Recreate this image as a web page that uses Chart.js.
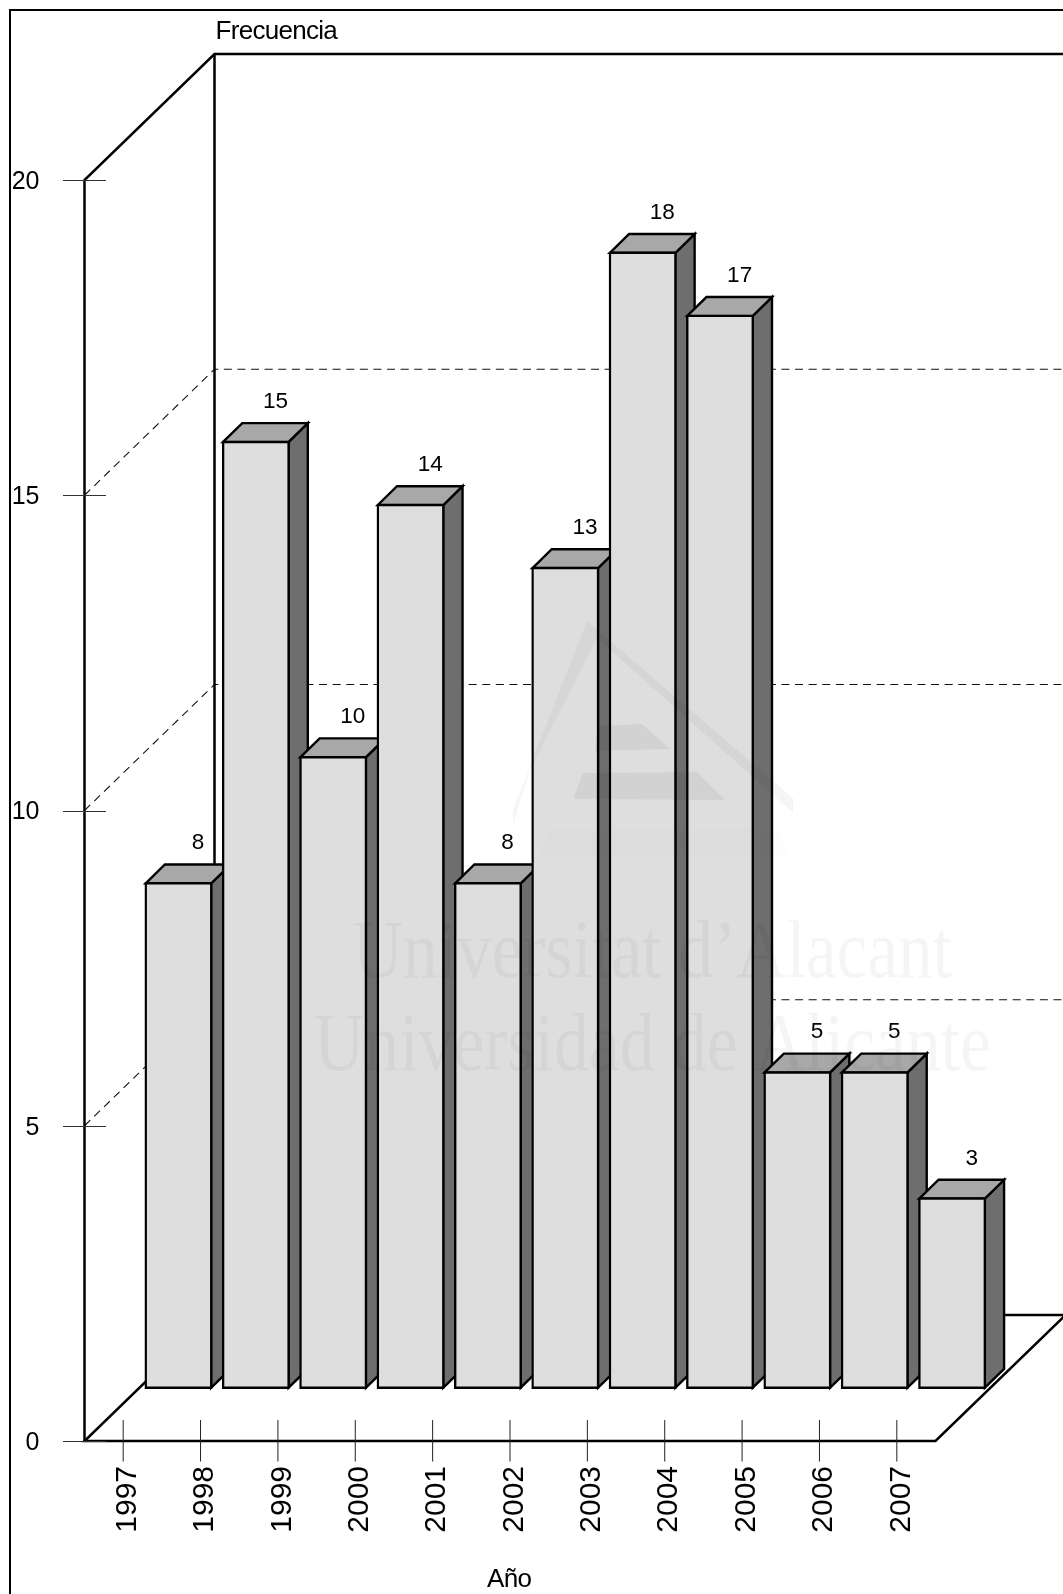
<!DOCTYPE html>
<html lang="es">
<head>
<meta charset="utf-8">
<title>Frecuencia por año</title>
<script src="https://cdn.jsdelivr.net/npm/chart.js@4/dist/chart.umd.js"></script>
<style>
html,body{margin:0;padding:0;background:#fff}
canvas{display:block}
</style>
</head>
<body>
<canvas id="c" width="1063" height="1594"></canvas>
<script>
const years = ['1997','1998','1999','2000','2001','2002','2003','2004','2005','2006','2007'];
const frequency = [8,15,10,14,8,13,18,17,5,5,3];
const yTicks = [0,5,10,15,20];

const FONT = '"Liberation Sans", Arial, sans-serif';
const SERIF = '"Liberation Serif", "Times New Roman", serif';
const WALL = {dx:130, dy:126};      // depth of the box (floor to back wall)
const BAR_POS = {dx:55.3, dy:53.3}; // bars stand inside the floor
const BAR_DEPTH = {dx:19.2, dy:18.8};
const COL = {front:'#dedede', side:'#6e6e6e', top:'#a8a8a8'};
const WALL_LW = 2.5, BAR_LW = 2.4;

function line(ctx, pts, w, color, dash){
  ctx.save();
  ctx.lineWidth = w; ctx.strokeStyle = color; ctx.setLineDash(dash||[]);
  ctx.lineJoin='miter'; ctx.lineCap='butt';
  ctx.beginPath();
  pts.forEach((p,i)=> i? ctx.lineTo(p[0],p[1]) : ctx.moveTo(p[0],p[1]));
  ctx.stroke();
  ctx.restore();
}
function poly(ctx, pts, fill){
  ctx.save();
  ctx.fillStyle = fill; ctx.strokeStyle='#000'; ctx.lineWidth=BAR_LW; ctx.lineJoin='miter';
  ctx.beginPath();
  pts.forEach((p,i)=> i? ctx.lineTo(p[0],p[1]) : ctx.moveTo(p[0],p[1]));
  ctx.closePath(); ctx.fill(); ctx.stroke();
  ctx.restore();
}
function text(ctx, s, x, y, font, align, spacing){
  ctx.save();
  ctx.font = font; ctx.fillStyle='#000'; ctx.textAlign=align||'left'; ctx.textBaseline='alphabetic';
  if(spacing) ctx.letterSpacing = spacing;
  ctx.fillText(s,x,y);
  ctx.restore();
}

const box3d = {
  id:'box3d',
  beforeDatasetsDraw(chart){
    const {ctx, scales:{x,y}} = chart;
    const L=x.left, R=x.right, Y0=y.getPixelForValue(0), YT=y.getPixelForValue(20);
    const W=chart.width, H=chart.height;
    // outer frame
    line(ctx,[[10,H],[10,10],[W,10]],2,'#000');
    // dashed grid on side and back walls
    yTicks.filter(v=>v>0&&v<20).forEach(v=>{
      const p=y.getPixelForValue(v);
      line(ctx,[[L,p],[L+WALL.dx,p-WALL.dy],[W,p-WALL.dy]],1.1,'#111',[8,5.6]);
    });
    // walls and floor
    line(ctx,[[L,Y0],[L,YT],[L+WALL.dx,YT-WALL.dy],[W,YT-WALL.dy]],WALL_LW,'#000');
    line(ctx,[[L+WALL.dx,YT-WALL.dy],[L+WALL.dx,Y0-WALL.dy],[L,Y0],[R,Y0],[R+WALL.dx,Y0-WALL.dy],[L+WALL.dx,Y0-WALL.dy]],WALL_LW,'#000');
    // tick marks
    yTicks.forEach(v=>{
      const p=Math.round(y.getPixelForValue(v))+0.5;
      line(ctx,[[L-21.5,p],[L+21.5,p]],1,'#333');
    });
    years.forEach((_,i)=>{
      const p=x.getPixelForTick(i);
      line(ctx,[[p,Y0-21],[p,Y0+20.5]],1,'#222');
    });
  },
  beforeDatasetDraw(chart, args){
    const ctx=chart.ctx, meta=args.meta;
    meta.data.forEach(el=>{
      const s=el.getProps(['x','y','base','width'],true);
      const l=s.x-s.width/2+BAR_POS.dx, r=s.x+s.width/2+BAR_POS.dx;
      const t=s.y-BAR_POS.dy, b=s.base-BAR_POS.dy;
      const dx=BAR_DEPTH.dx, dy=BAR_DEPTH.dy;
      poly(ctx,[[r,t],[r+dx,t-dy],[r+dx,b-dy],[r,b]],COL.side);
      poly(ctx,[[l,t],[l+dx,t-dy],[r+dx,t-dy],[r,t]],COL.top);
      ctx.save();
      ctx.translate(BAR_POS.dx,-BAR_POS.dy);
      el.draw(ctx);
      ctx.restore();
    });
    return false; // faces and fronts are painted in order above
  },
  afterDatasetsDraw(chart){
    const ctx=chart.ctx, meta=chart.getDatasetMeta(0);
    meta.data.forEach((el,i)=>{
      text(ctx,String(frequency[i]),el.x+BAR_POS.dx+BAR_DEPTH.dx+0.4,el.y-BAR_POS.dy-34,'22.5px '+FONT,'center');
    });
  },
  afterDraw(chart){
    const ctx=chart.ctx;
    text(ctx,'Frecuencia',215.5,39,'26px '+FONT,'left','-0.7px');
    text(ctx,'Año',487,1587,'26px '+FONT,'left','-0.7px');
    // faint watermark of the repository, printed over everything
    ctx.save();
    ctx.fillStyle='rgba(0,0,0,0.04)';
    ctx.font='82px '+SERIF; ctx.textBaseline='alphabetic';
    ctx.fillText('Universitat d\u2019Alacant',353,977,599);
    ctx.fillText('Universidad de Alicante',314,1070,677);
    const shape=(a,pts)=>{ctx.fillStyle='rgba(0,0,0,'+a+')';ctx.beginPath();pts.forEach((p,i)=>i?ctx.lineTo(p[0],p[1]):ctx.moveTo(p[0],p[1]));ctx.closePath();ctx.fill();};
    shape(0.04,[[587,621],[793,798],[793,813],[597,638]]);
    shape(0.035,[[587,621],[597,638],[530,770],[513,825],[513,810]]);
    shape(0.05,[[598,726],[642,724],[670,749],[595,751]]);
    shape(0.05,[[583,773],[697,772],[725,800],[573,799]]);
    shape(0.006,[[550,830],[780,830],[790,855],[540,855]]);
    ctx.restore();
  }
};

new Chart(document.getElementById('c'),{
  type:'bar',
  data:{labels:years,datasets:[{
    label:'Frecuencia',data:frequency,
    backgroundColor:COL.front,borderColor:'#000',borderWidth:BAR_LW,borderSkipped:false,inflateAmount:BAR_LW/2,
    barPercentage:0.847,categoryPercentage:1,clip:false
  }]},
  options:{
    responsive:false,animation:false,
    layout:{padding:{top:180,right:127.5,left:0,bottom:0}},
    plugins:{legend:{display:false},tooltip:{enabled:false},title:{display:false}},
    scales:{
      x:{type:'category',offset:true,
        afterFit(s){s.height=153;},
        grid:{display:false,drawTicks:false},border:{display:false},
        ticks:{autoSkip:false,minRotation:90,maxRotation:90,padding:25,labelOffset:4.5,color:'#000',font:{family:FONT,size:30}}},
      y:{type:'linear',min:0,max:20,
        afterFit(s){s.width=84.5;},
        afterBuildTicks(s){s.ticks=yTicks.map(v=>({value:v}));},
        grid:{display:false,drawTicks:false},border:{display:false},
        ticks:{padding:45,labelOffset:2,color:'#000',font:{family:FONT,size:25}}}
    }
  },
  plugins:[box3d]
});
</script>
</body>
</html>
